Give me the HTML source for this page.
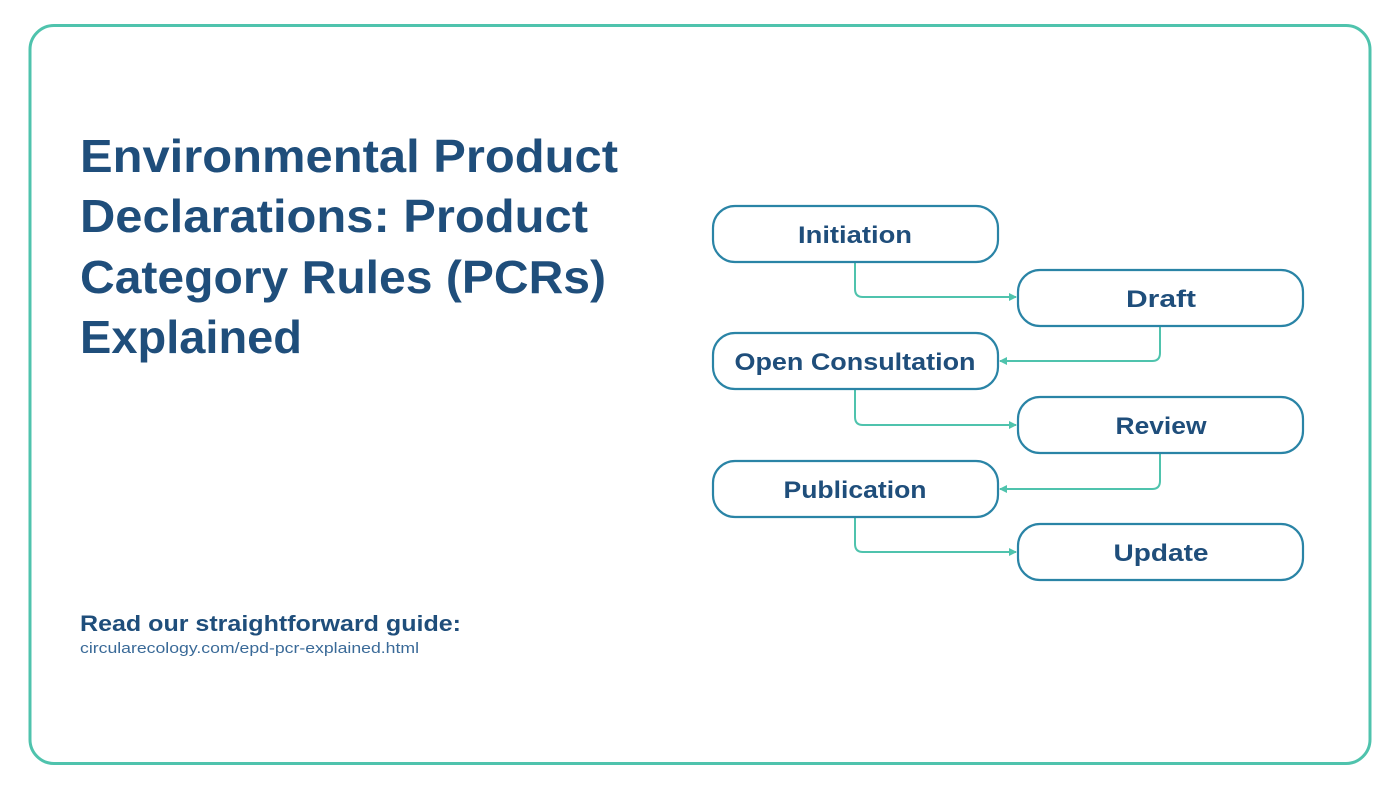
<!DOCTYPE html>
<html><head><meta charset="utf-8"><style>
html,body{margin:0;padding:0;background:#fff;}
svg{display:block;}
text{font-family:"Liberation Sans",sans-serif;}
</style></head><body>
<svg width="1400" height="788" viewBox="0 0 1400 788" xmlns="http://www.w3.org/2000/svg">
<defs>
<marker id="a" markerWidth="8" markerHeight="8" refX="7" refY="4" orient="auto" markerUnits="userSpaceOnUse">
<path d="M0,0 L8,4 L0,8 Z" fill="#4fc3ad"/>
</marker>
</defs>
<rect x="30" y="25.5" width="1340" height="738" rx="24" fill="#fff" stroke="#4fc3ad" stroke-width="3"/>
<g fill="#1f4e7b" font-weight="bold" font-size="46">
<text x="80" y="172" textLength="538" lengthAdjust="spacingAndGlyphs">Environmental Product</text>
<text x="80" y="232" textLength="508" lengthAdjust="spacingAndGlyphs">Declarations: Product</text>
<text x="80" y="293" textLength="526" lengthAdjust="spacingAndGlyphs">Category Rules (PCRs)</text>
<text x="80" y="353" textLength="222" lengthAdjust="spacingAndGlyphs">Explained</text>
</g>
<text x="80" y="631" font-size="22" font-weight="bold" fill="#1f4e7b" textLength="381" lengthAdjust="spacingAndGlyphs">Read our straightforward guide:</text>
<text x="80" y="653" font-size="15" fill="#3a6a98" textLength="339" lengthAdjust="spacingAndGlyphs">circularecology.com/epd-pcr-explained.html</text>
<g fill="none" stroke="#4fc3ad" stroke-width="2">
<path d="M855,263 V289 Q855,297 863,297 H1016" marker-end="url(#a)"/>
<path d="M1160,327 V353 Q1160,361 1152,361 H1000" marker-end="url(#a)"/>
<path d="M855,390 V417 Q855,425 863,425 H1016" marker-end="url(#a)"/>
<path d="M1160,454 V481 Q1160,489 1152,489 H1000" marker-end="url(#a)"/>
<path d="M855,518 V544 Q855,552 863,552 H1016" marker-end="url(#a)"/>
</g>
<g fill="#fff" stroke="#2a84a6" stroke-width="2.2">
<rect x="713" y="206" width="285" height="56" rx="22"/>
<rect x="1018" y="270" width="285" height="56" rx="22"/>
<rect x="713" y="333" width="285" height="56" rx="22"/>
<rect x="1018" y="397" width="285" height="56" rx="22"/>
<rect x="713" y="461" width="285" height="56" rx="22"/>
<rect x="1018" y="524" width="285" height="56" rx="22"/>
</g>
<g fill="#1f4e7b" font-weight="bold" font-size="24" text-anchor="middle">
<text x="855" y="243" textLength="114" lengthAdjust="spacingAndGlyphs">Initiation</text>
<text x="1161" y="307" textLength="70" lengthAdjust="spacingAndGlyphs">Draft</text>
<text x="855" y="370" textLength="241" lengthAdjust="spacingAndGlyphs">Open Consultation</text>
<text x="1161" y="434" textLength="91" lengthAdjust="spacingAndGlyphs">Review</text>
<text x="855" y="498" textLength="143" lengthAdjust="spacingAndGlyphs">Publication</text>
<text x="1161" y="561" textLength="95" lengthAdjust="spacingAndGlyphs">Update</text>
</g>
</svg>
</body></html>
